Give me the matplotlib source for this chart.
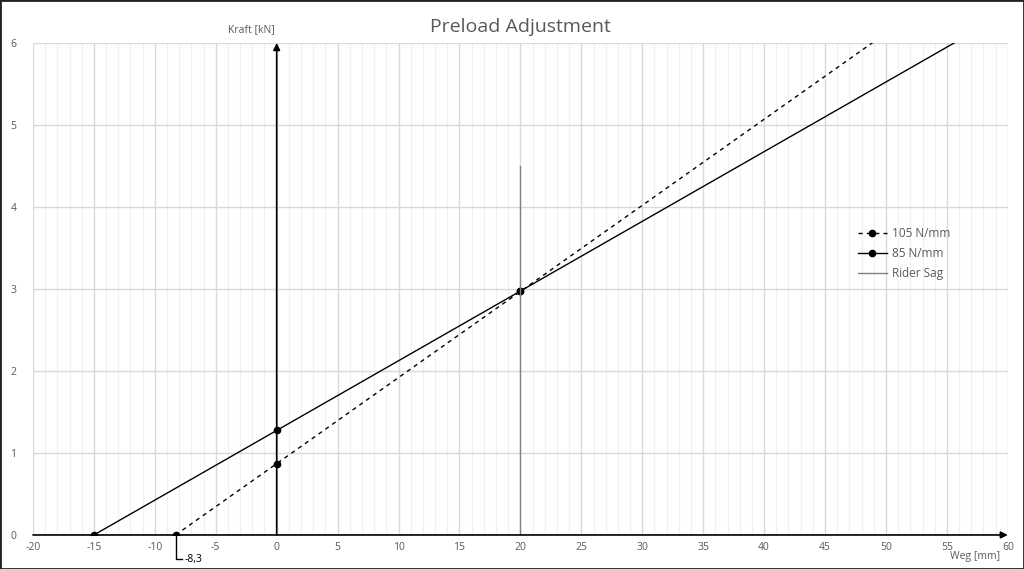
import numpy as np
import matplotlib.pyplot as plt
from matplotlib.ticker import MultipleLocator

# spring lines (Weg in mm, Kraft in kN)
x_105 = [-8.3, 0, 20, 60]
y_105 = [0, 0.87, 2.97, 7.17]
x_85 = [-15, 0, 20, 60]
y_85 = [0, 1.275, 2.975, 6.375]
x_sag = [20, 20]
y_sag = [0, 4.5]

x_ticks = list(range(-20, 61, 5))
y_ticks = list(range(0, 7))

plt.rcParams['font.family'] = ['Open Sans', 'DejaVu Sans']
plt.rcParams['axes.unicode_minus'] = False
grey = '#595959'

fig = plt.figure(figsize=(10.24, 5.69), dpi=100)
ax = fig.add_axes([0.0322, 0.0598, 0.952, 0.8646])
ax.set_xlim(-20, 60)
ax.set_ylim(0, 6)

ax.plot(x_105, y_105, color='k', lw=1, ls=(0, (3, 3)), marker='o', ms=4.5,
        markevery=[0, 1, 2], label='105 N/mm')
ax.plot(x_85, y_85, color='k', lw=1, marker='o', ms=4.5,
        markevery=[0, 1, 2], label='85 N/mm')
ax.plot(x_sag, y_sag, color='#808080', lw=1, label='Rider Sag')

# axis arrows
ax.annotate('', xy=(0, 6), xytext=(0, 0),
            arrowprops=dict(arrowstyle='-|>', color='k', lw=1.2, mutation_scale=10,
                            shrinkA=0, shrinkB=0))
ax.annotate('', xy=(60, 0), xytext=(-20, 0),
            arrowprops=dict(arrowstyle='-|>', color='k', lw=1.2, mutation_scale=10,
                            shrinkA=0, shrinkB=0), annotation_clip=False)

# callout for -8,3
ax.plot([-8.3, -8.3, -7.75], [0, -0.29, -0.29], color='k', lw=1, clip_on=False)
ax.text(-7.55, -0.3, '-8,3', fontsize=7.5, color='k', va='center', ha='left')

ax.set_xticks(x_ticks)
ax.set_yticks(y_ticks)
ax.xaxis.set_minor_locator(MultipleLocator(1))
ax.grid(which='major', color='#d9d9d9', lw=1)
ax.grid(which='minor', axis='x', color='#f0f0f0', lw=0.8)
ax.set_axisbelow(True)
for s in ax.spines.values():
    s.set_visible(False)
ax.tick_params(which='both', length=0, labelsize=7.5, labelcolor=grey)
ax.tick_params(axis='x', pad=5)
ax.tick_params(axis='y', pad=12)

ax.set_title('Preload Adjustment', fontsize=14, color=grey, pad=8)
fig.text(251 / 1024, 1 - 30 / 569, 'Kraft [kN]', fontsize=7.5, color=grey,
         ha='center', va='center')
fig.text(975 / 1024, 1 - 557 / 569, 'Weg [mm]', fontsize=7.5, color=grey,
         ha='center', va='center')

ax.legend(loc='upper left', bbox_to_anchor=(0.835, 0.647), frameon=False,
          fontsize=8.5, labelcolor=grey, handlelength=2.5, handletextpad=0.4,
          labelspacing=0.6)

# image border
fig.patches.append(plt.Rectangle((0, 0), 1, 1, transform=fig.transFigure,
                                 fill=False, edgecolor='#222222', lw=2))

fig.savefig('out.png', dpi=100)
